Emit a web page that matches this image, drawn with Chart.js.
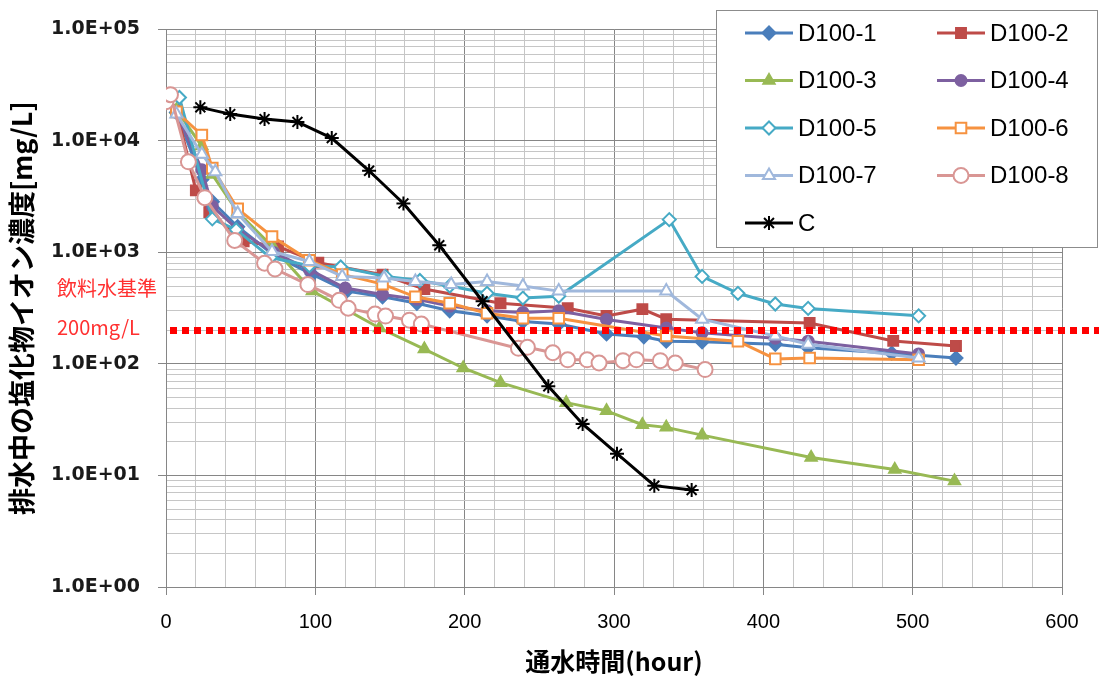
<!DOCTYPE html>
<html>
<head>
<meta charset="utf-8">
<script src="https://cdn.jsdelivr.net/npm/chart.js@4.4.1/dist/chart.umd.min.js"></script>
<style>
  body { margin: 0; background: #fff; }
  #wrap { width: 1099px; height: 677px; }
</style>
</head>
<body>
<div id="wrap"><canvas id="chlorideChart" width="1099" height="677"></canvas></div>
<script>
// 通水時間 (hour) / 排水中の塩化物イオン濃度 (mg/L)
const d1Hours  = [7, 24, 31, 48, 72, 98, 121, 145, 168, 190, 215, 239, 263, 295, 320, 335, 359, 408, 430, 486, 529];
const d1Values = [18000, 4500, 2850, 1700, 950, 635, 450, 400, 350, 300, 270, 240, 228, 186, 175, 160, 158, 150, 140, 125, 113];

const d2Hours  = [7, 20, 29, 52, 75, 102, 145, 173, 224, 269, 295, 319, 335, 431, 487, 529];
const d2Values = [19000, 3600, 2300, 1260, 1130, 810, 630, 470, 350, 316, 270, 310, 252, 233, 161, 145];

const d3Hours  = [7, 24, 31, 48, 72, 98, 143, 173, 199, 224, 268, 295, 319, 335, 359, 432, 488, 528];
const d3Values = [19000, 9000, 5000, 2300, 1100, 450, 210, 136, 92, 68, 45, 38, 28.5, 27, 23, 14.5, 11.3, 8.9];

const d4Hours  = [7, 24, 31, 48, 72, 96, 120, 145, 168, 190, 215, 239, 263, 295, 335, 359, 408, 430, 504];
const d4Values = [18000, 5500, 2600, 1600, 1000, 700, 480, 420, 380, 330, 300, 290, 300, 250, 210, 190, 170, 160, 123];

const d5Hours  = [9, 31, 47, 70, 96, 117, 147, 170, 190, 215, 239, 263, 337, 359, 383, 408, 430, 504];
const d5Values = [24500, 2000, 1600, 900, 760, 740, 610, 560, 500, 430, 390, 405, 1970, 610, 430, 345, 315, 270];

const d6Hours  = [7, 24, 31, 48, 71, 96, 118, 145, 167, 190, 215, 239, 263, 335, 383, 408, 431, 504];
const d6Values = [18200, 11300, 5700, 2460, 1390, 850, 635, 520, 400, 350, 285, 257, 257, 178, 160, 111, 113, 109];

const d7Hours  = [7, 24, 33, 48, 71, 96, 118, 146, 167, 191, 215, 239, 263, 335, 359, 408, 430, 504];
const d7Values = [17400, 7600, 5300, 2230, 1020, 830, 610, 590, 550, 515, 550, 500, 450, 450, 252, 178, 150, 113];

const d8Hours  = [0, 3, 15, 26, 46, 66, 73, 95, 116, 122, 140, 147, 163, 171, 236, 242, 259, 269, 282, 290, 306, 315, 331, 341, 361];
const d8Values = [22500, 26000, 6500, 3100, 1280, 800, 710, 515, 372, 316, 280, 269, 247, 228, 138, 141, 126, 109, 109, 102, 107, 109, 107, 102, 89];

const cHours  = [23, 43, 66, 88, 111, 136, 159, 183, 212, 256, 279, 302, 327, 352];
const cValues = [20000, 17400, 15700, 14800, 10600, 5400, 2750, 1160, 365, 63, 29, 15.7, 8.1, 7.4];

const seriesNames = ['D100-1', 'D100-2', 'D100-3', 'D100-4', 'D100-5', 'D100-6', 'D100-7', 'D100-8', 'C'];
const yTickLabels = ['1.0E+00', '1.0E+01', '1.0E+02', '1.0E+03', '1.0E+04', '1.0E+05'];
const limitValue = 200;
const limitLabels = ['飲料水基準', '200mg/L'];

function pts(hours, values) {
  return hours.map((h, i) => ({ x: h, y: values[i] }));
}

const styles = [
  { color: '#4A7EBB', fill: '#4A7EBB', shape: 'rectRot', r: 6.5 },
  { color: '#BE4B48', fill: '#BE4B48', shape: 'rect', r: 7 },
  { color: '#98B954', fill: '#98B954', shape: 'triangle', r: 6.5 },
  { color: '#7D60A0', fill: '#7D60A0', shape: 'circle', r: 5.5 },
  { color: '#46AAC5', fill: '#ffffff', shape: 'rectRot', r: 6.5 },
  { color: '#F69240', fill: '#ffffff', shape: 'rect', r: 7.5 },
  { color: '#A0B8DC', fill: '#ffffff', shape: 'triangle', r: 7 },
  { color: '#D99694', fill: '#ffffff', shape: 'circle', r: 7.5 },
  { color: '#000000', fill: '#000000', shape: 'star', r: 7 }
];
const seriesData = [
  pts(d1Hours, d1Values), pts(d2Hours, d2Values), pts(d3Hours, d3Values),
  pts(d4Hours, d4Values), pts(d5Hours, d5Values), pts(d6Hours, d6Values),
  pts(d7Hours, d7Values), pts(d8Hours, d8Values), pts(cHours, cValues)
];

const datasets = seriesNames.map((name, i) => ({
  label: name,
  data: seriesData[i],
  borderColor: styles[i].color,
  backgroundColor: styles[i].fill,
  borderWidth: 3,
  pointStyle: styles[i].shape,
  pointRadius: styles[i].r,
  pointBorderWidth: 2,
  pointBackgroundColor: styles[i].fill,
  pointBorderColor: styles[i].color,
  tension: 0,
  order: seriesNames.length - i
}));

const isDecade = v => Math.abs(Math.log10(v) - Math.round(Math.log10(v))) < 1e-9;

// red dotted 200 mg/L line, drawn just before the C series
const limitLine = {
  id: 'limitLine',
  beforeDatasetDraw(chart, args) {
    if (args.index !== seriesNames.length - 1) return;
    const ctx = chart.ctx;
    const y = chart.scales.y.getPixelForValue(limitValue);
    ctx.save();
    ctx.strokeStyle = '#FF0000';
    ctx.lineWidth = 7;
    ctx.setLineDash([7, 5]);
    ctx.beginPath();
    ctx.moveTo(170, y);
    ctx.lineTo(chart.width, y);
    ctx.stroke();
    ctx.restore();
  },
  afterDraw(chart) {
    const ctx = chart.ctx;
    const y = chart.scales.y.getPixelForValue(limitValue);
    ctx.save();
    ctx.fillStyle = '#FF3030';
    ctx.font = '20px "Noto Sans CJK JP", sans-serif';
    ctx.textAlign = 'left';
    ctx.textBaseline = 'middle';
    ctx.fillText(limitLabels[0], 57, y - 42);
    ctx.fillText(limitLabels[1], 57, y - 3);
    ctx.restore();
  }
};

const legendBox = {
  id: 'legendBox',
  afterDraw(chart) {
    const ctx = chart.ctx;
    ctx.save();
    ctx.fillStyle = '#ffffff';
    ctx.fillRect(716, 10, 383, 238);
    ctx.strokeStyle = '#8c8c8c';
    ctx.lineWidth = 1;
    ctx.strokeRect(716.5, 10.5, 381, 237);
    chart.data.datasets.forEach((ds, i) => {
      const col = i % 2;
      const row = Math.floor(i / 2);
      const x0 = col ? 937 : 745;
      const y = 33 + row * 47.5;
      ctx.strokeStyle = ds.borderColor;
      ctx.lineWidth = 3;
      ctx.beginPath();
      ctx.moveTo(x0, y);
      ctx.lineTo(x0 + 48, y);
      ctx.stroke();
      ctx.fillStyle = ds.pointBackgroundColor;
      ctx.strokeStyle = ds.pointBorderColor;
      ctx.lineWidth = 2;
      Chart.helpers.drawPoint(ctx, {
        pointStyle: ds.pointStyle, radius: ds.pointRadius, borderWidth: 2, rotation: 0
      }, x0 + 24, y);
      ctx.fillStyle = '#000';
      ctx.font = '24px "Liberation Sans", sans-serif';
      ctx.textAlign = 'left';
      ctx.textBaseline = 'middle';
      ctx.fillText(ds.label, x0 + 53, y + 1);
    });
    ctx.restore();
  }
};

const ctx = document.getElementById('chlorideChart').getContext('2d');
new Chart(ctx, {
  type: 'line',
  data: { datasets: datasets },
  options: {
    responsive: false,
    devicePixelRatio: 1,
    animation: false,
    layout: { padding: { top: 27, right: 37, left: 0, bottom: 0 } },
    plugins: { legend: { display: false }, tooltip: { enabled: false } },
    scales: {
      x: {
        type: 'linear',
        min: 0,
        max: 600,
        afterFit(scale) { scale.height = 90; },
        ticks: {
          stepSize: 20,
          autoSkip: false,
          maxRotation: 0,
          padding: 15,
          color: '#000',
          font: { family: '"Liberation Sans Narrow", "Liberation Sans", sans-serif', size: 20 },
          callback: v => (v % 100 === 0 ? v : '')
        },
        grid: {
          color: c => (c.tick && c.tick.value % 100 === 0 ? '#868686' : '#c6c6c6'),
          tickColor: c => (c.tick && c.tick.value % 100 === 0 ? '#868686' : 'rgba(0,0,0,0)'),
          tickLength: 8
        },
        border: { color: '#868686' },
        title: {
          display: true,
          text: '通水時間(hour)',
          color: '#000',
          padding: { top: 0, bottom: 1 },
          font: { family: '"Noto Sans CJK JP", sans-serif', size: 25, weight: 'bold' }
        }
      },
      y: {
        type: 'logarithmic',
        min: 1,
        max: 100000,
        afterFit(scale) { scale.width = 166; },
        afterBuildTicks(scale) {
          const list = [];
          for (let e = 0; e < 5; e++) {
            for (let s = 1; s < 10; s++) list.push({ value: s * Math.pow(10, e) });
          }
          list.push({ value: 100000 });
          scale.ticks = list;
        },
        ticks: {
          autoSkip: false,
          padding: 18,
          color: '#1a1a1a',
          font: { family: '"DejaVu Sans", sans-serif', size: 19, weight: 'bold' },
          callback: v => (isDecade(v) ? yTickLabels[Math.round(Math.log10(v))] : '')
        },
        grid: {
          color: c => (c.tick && isDecade(c.tick.value) ? '#868686' : '#c6c6c6'),
          tickColor: c => (c.tick && isDecade(c.tick.value) ? '#868686' : 'rgba(0,0,0,0)'),
          tickLength: 8
        },
        border: { color: '#868686' },
        title: {
          display: true,
          text: '排水中の塩化物イオン濃度[mg/L]',
          color: '#000',
          padding: { top: 6, bottom: 0 },
          font: { family: '"Noto Sans CJK JP", sans-serif', size: 27, weight: 'bold' }
        }
      }
    }
  },
  plugins: [limitLine, legendBox]
});
</script>
</body>
</html>
